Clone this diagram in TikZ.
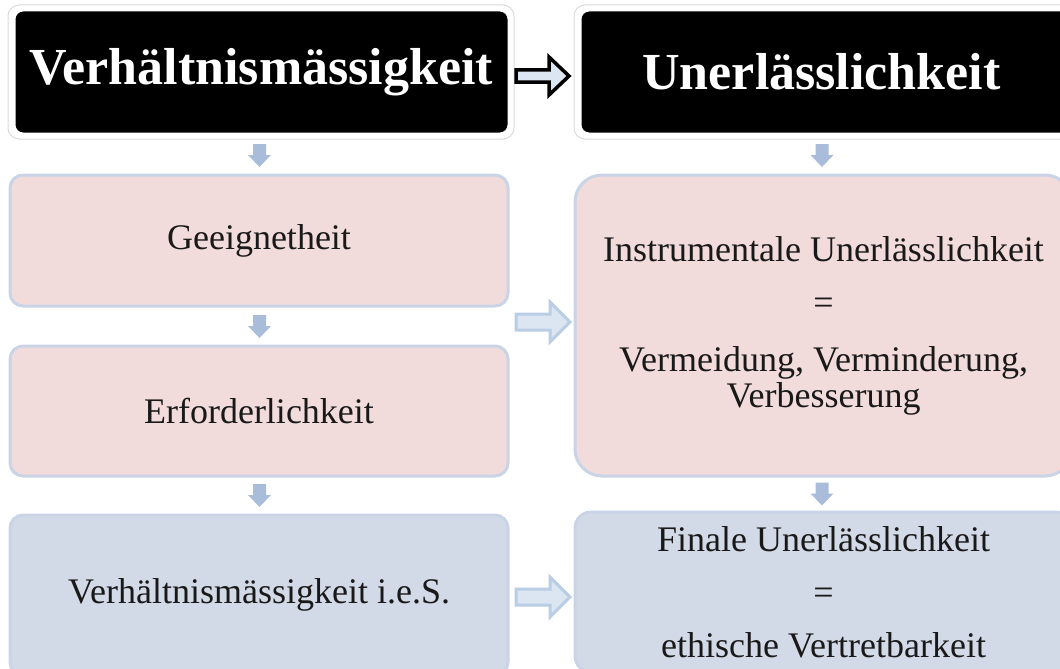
\documentclass[tikz,border=0pt]{standalone}
\usepackage{fontspec}
\setmainfont{Liberation Serif}
\usetikzlibrary{calc}
\definecolor{pinkfill}{HTML}{F2DCDB}
\definecolor{bluefill}{HTML}{D3DAE7}
\definecolor{boxline}{HTML}{C9D4E6}
\definecolor{darrow}{HTML}{A9BDDB}
\definecolor{harrowfill}{HTML}{DCE6F2}
\definecolor{harrowline}{HTML}{B9CDE5}
\begin{document}
\begin{tikzpicture}[x=1pt,y=-1pt,
  titlebox/.style={fill=black,draw=white,line width=3pt,rounded corners=9pt,
    minimum width=#1,minimum height=124pt,inner sep=0pt,text=white,
    font=\fontsize{52}{52}\selectfont\bfseries},
  stagebox/.style={draw=boxline,line width=3pt,inner sep=0pt,align=center,
    font=\fontsize{36}{36}\selectfont,text=black!90},
  pinkbox/.style={stagebox,fill=pinkfill},
  bluebox/.style={stagebox,fill=bluefill},
  downarrow/.style={fill=darrow,draw=none},
  hollowarrow/.style={fill=harrowfill,draw=harrowline,line width=3pt,line join=miter},
  blackarrow/.style={fill=harrowfill,draw=black,line width=3.5pt,line join=miter},
  outline/.style={draw=black!15,line width=1pt,rounded corners=11pt}
]
\useasboundingbox (0,0) rectangle (1060,669);
\clip (0,0) rectangle (1060,669);

% title boxes
\draw[outline] (8,5) rectangle (514,139);
\draw[outline] (574,5) rectangle (1080,139);
\node[titlebox=495pt] (T1) at (261.5,72) {Verhältnismässigkeit};
\node[titlebox=495pt] (T2) at (827.5,72) {\hspace*{-12pt}Unerlässlichkeit};

% left column
\node[pinkbox,rounded corners=13pt,minimum width=498pt,minimum height=131pt] (G) at (259,240.5) {Geeignetheit};
\node[pinkbox,rounded corners=13pt,minimum width=498pt,minimum height=130pt] (E) at (259,411) {Erforderlichkeit};
\node[bluebox,rounded corners=13pt,minimum width=498pt,minimum height=160pt] (V) at (259,595) {Verhältnismässigkeit i.e.S.};

% right column
\node[pinkbox,rounded corners=27pt,minimum width=497pt,minimum height=301pt] (I) at (823.5,325.5)
  {Instrumentale Unerlässlichkeit\\[17pt]=\\[21pt]Vermeidung, Verminderung,\\Verbesserung};
\node[bluebox,rounded corners=16pt,minimum width=497pt,minimum height=160pt] (F) at (823.5,592)
  {Finale Unerlässlichkeit\\[17pt]=\\[17pt]ethische Vertretbarkeit};

% black arrow between titles
\draw[blackarrow,shift={(516,76)}] (0,-6) -- (33,-6) -- (33,-19) -- (53,0) -- (33,19) -- (33,6) -- (0,6) -- cycle;

% down arrows
\foreach \cx/\cy in {259.5/144, 259.5/315, 259.5/484, 822/144, 822/482.5}{
  \fill[downarrow,shift={(\cx,\cy)}] (-6.5,0) -- (6.5,0) -- (6.5,11) -- (11.5,11) -- (0,23) -- (-11.5,11) -- (-6.5,11) -- cycle;
}

% hollow right arrows
\foreach \cy in {322,597}{
  \draw[hollowarrow,shift={(516,\cy)}] (0,-8) -- (34,-8) -- (34,-20) -- (54,0) -- (34,20) -- (34,8) -- (0,8) -- cycle;
}
\end{tikzpicture}
\end{document}
